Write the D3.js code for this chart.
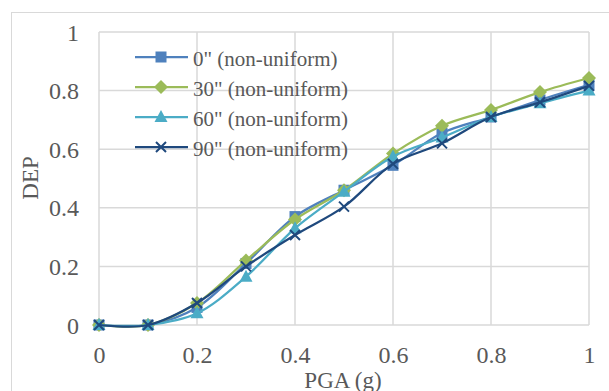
<!DOCTYPE html>
<meta charset="utf-8">
<script src="https://cdn.jsdelivr.net/npm/d3@7"></script>
<style>
body { margin: 0; background: #fff; }
text { font-family: "Liberation Serif", "Times New Roman", serif; fill: #595959; }
</style>
<body>
<script>
// PGA values on the x axis
var pga = [0, 0.1, 0.2, 0.3, 0.4, 0.5, 0.6, 0.7, 0.8, 0.9, 1];

// DEP for each incidence angle
var dep0  = [0, 0, 0.06, 0.21, 0.37, 0.46, 0.545, 0.655, 0.71, 0.768, 0.82];
var dep30 = [0, 0, 0.075, 0.22, 0.36, 0.46, 0.585, 0.68, 0.734, 0.795, 0.843];
var dep60 = [0, 0, 0.04, 0.165, 0.33, 0.455, 0.575, 0.64, 0.71, 0.757, 0.80];
var dep90 = [0, 0, 0.075, 0.20, 0.307, 0.404, 0.55, 0.62, 0.71, 0.76, 0.816];

var seriesNames = ['0" (non-uniform)', '30" (non-uniform)', '60" (non-uniform)', '90" (non-uniform)'];
var xTicks = [0, 0.2, 0.4, 0.6, 0.8, 1];
var yTicks = [0, 0.2, 0.4, 0.6, 0.8, 1];

var series = [
  {name: seriesNames[0], values: dep0,  color: "#4F81BD", marker: "square"},
  {name: seriesNames[1], values: dep30, color: "#9BBB59", marker: "diamond"},
  {name: seriesNames[2], values: dep60, color: "#4BACC6", marker: "triangle"},
  {name: seriesNames[3], values: dep90, color: "#1F497D", marker: "cross"}
];

var W = 609, H = 391;
var plotL = 99, plotR = 589, plotT = 32, plotB = 325;

var svg = d3.select("body").append("svg")
    .attr("width", W)
    .attr("height", H);

// chart area border
svg.append("rect")
    .attr("x", 11.5).attr("y", 12.5)
    .attr("width", 640).attr("height", 420)
    .attr("fill", "none")
    .attr("stroke", "#d9d9d9")
    .attr("stroke-width", 1);

var x = d3.scaleLinear().domain([0, 1]).range([plotL, plotR]);
var y = d3.scaleLinear().domain([0, 1]).range([plotB, plotT]);

// gridlines
svg.append("g").selectAll("line")
    .data(xTicks).enter().append("line")
    .attr("x1", function(d) { return x(d); })
    .attr("x2", function(d) { return x(d); })
    .attr("y1", y(0)).attr("y2", y(1))
    .attr("stroke", "#d9d9d9").attr("stroke-width", 1.5);

svg.append("g").selectAll("line")
    .data(yTicks).enter().append("line")
    .attr("x1", x(0)).attr("x2", x(1))
    .attr("y1", function(d) { return y(d); })
    .attr("y2", function(d) { return y(d); })
    .attr("stroke", "#d9d9d9").attr("stroke-width", 1.5);

// axes (labels only, lines are the gridlines)
var xAxis = d3.axisBottom(x).tickValues(xTicks).tickSize(0).tickPadding(0)
    .tickFormat(d3.format("~g"));
var yAxis = d3.axisLeft(y).tickValues(yTicks).tickSize(0).tickPadding(0)
    .tickFormat(d3.format("~g"));

var gx = svg.append("g")
    .attr("transform", "translate(0,363)")
    .call(xAxis)
    .attr("font-family", null).attr("font-size", null);
gx.select(".domain").remove();
gx.selectAll("text").attr("dy", 0).attr("fill", "#595959").style("font-size", "24px");

var gy = svg.append("g")
    .attr("transform", "translate(79,0)")
    .call(yAxis)
    .attr("font-family", null).attr("font-size", null);
gy.select(".domain").remove();
gy.selectAll("text").attr("dy", "0.34em").attr("fill", "#595959").style("font-size", "24px");

// axis titles
svg.append("text")
    .attr("x", (plotL + plotR) / 2 - 1)
    .attr("y", 388)
    .attr("text-anchor", "middle")
    .style("font-size", "23px")
    .text("PGA (g)");

svg.append("text")
    .attr("transform", "translate(38,178) rotate(-90)")
    .attr("text-anchor", "middle")
    .style("font-size", "23px")
    .text("DEP");

function drawMarker(g, type, color) {
  if (type == "square") {
    g.append("rect").attr("x", -5.5).attr("y", -5.5).attr("width", 11).attr("height", 11)
      .attr("fill", color);
  } else if (type == "diamond") {
    g.append("path").attr("d", "M0,-7L7,0L0,7L-7,0Z").attr("fill", color);
  } else if (type == "triangle") {
    g.append("path").attr("d", "M0,-7L6.5,5L-6.5,5Z").attr("fill", color);
  } else {
    g.append("path").attr("d", "M-5,-5L5,5M-5,5L5,-5")
      .attr("stroke", color).attr("stroke-width", 2).attr("fill", "none");
  }
}

var line = d3.line()
    .x(function(d, i) { return x(pga[i]); })
    .y(function(d) { return y(d); })
    .curve(d3.curveCatmullRom.alpha(0.5));

for (var s of series) {
  svg.append("path")
      .datum(s.values)
      .attr("d", line)
      .attr("fill", "none")
      .attr("stroke", s.color)
      .attr("stroke-width", 2.25);

  svg.append("g").selectAll("g")
      .data(s.values).enter().append("g")
      .attr("transform", function(d, i) { return "translate(" + x(pga[i]) + "," + y(d) + ")"; })
      .each(function() { drawMarker(d3.select(this), s.marker, s.color); });
}

// legend
var legend = svg.selectAll(".legend")
    .data(series)
    .enter().append("g")
    .attr("class", "legend")
    .attr("transform", function(d, i) { return "translate(0," + (57 + i * 30) + ")"; });

legend.append("line")
    .attr("x1", 135).attr("x2", 188)
    .attr("y1", 0).attr("y2", 0)
    .attr("stroke", function(d) { return d.color; })
    .attr("stroke-width", 2.25);

legend.append("g")
    .attr("transform", "translate(161,0)")
    .each(function(d) { drawMarker(d3.select(this), d.marker, d.color); });

legend.append("text")
    .attr("x", 193)
    .attr("y", 9)
    .style("font-size", "21px")
    .text(function(d) { return d.name; });
</script>
</body>
</html>
